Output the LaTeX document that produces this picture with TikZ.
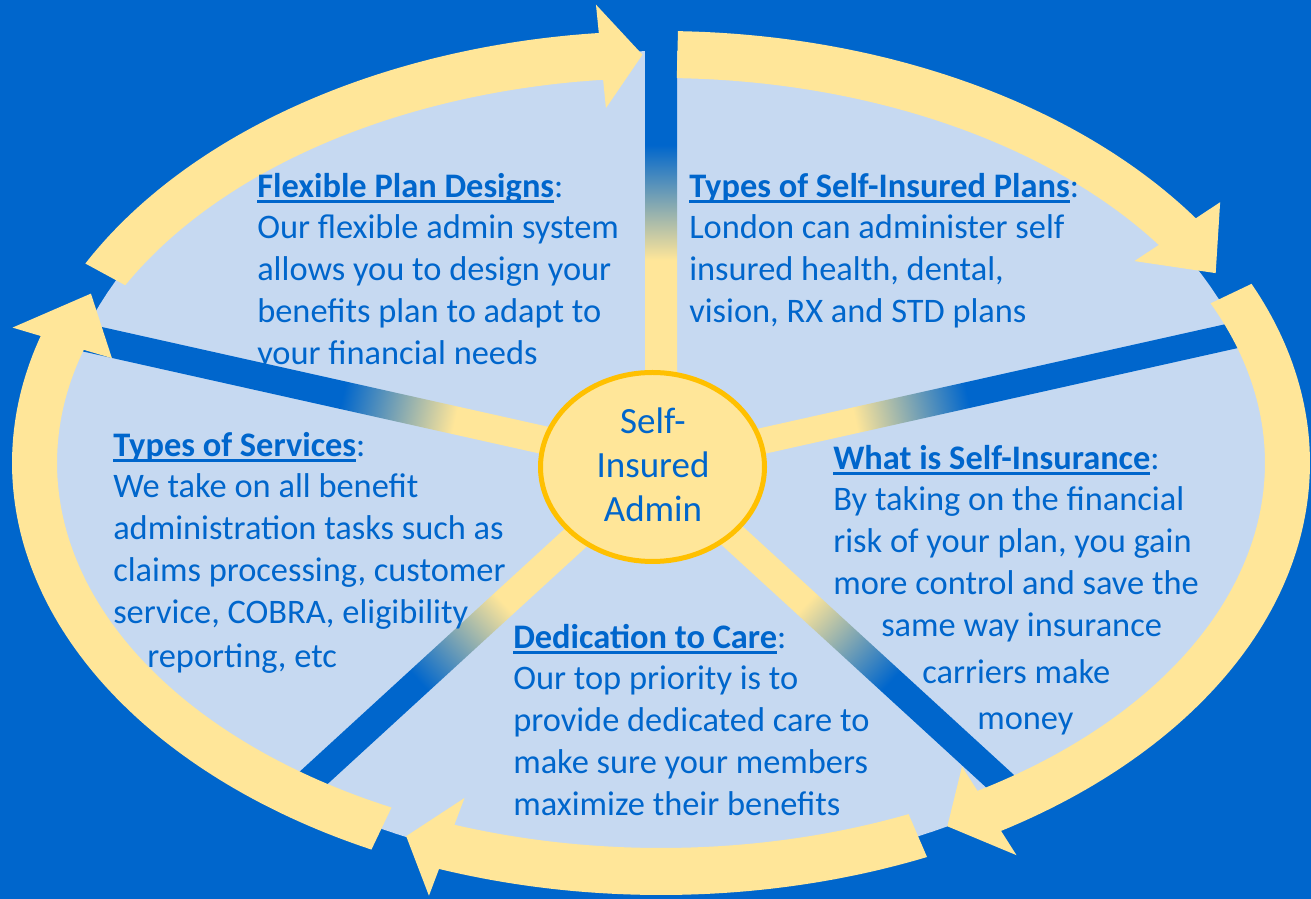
\documentclass[tikz,border=0pt]{standalone}
\usepackage{fontspec}
\setmainfont{Carlito}
\usetikzlibrary{shapes.geometric}
\definecolor{bblue}{RGB}{0,102,204}
\definecolor{lblue}{RGB}{198,217,241}
\definecolor{ylw}{RGB}{255,230,153}
\definecolor{hubline}{RGB}{255,192,0}
\definecolor{txtblue}{RGB}{0,102,204}
\pgfdeclarehorizontalshading{spokeshade}{100bp}{color(0bp)=(ylw); color(39.64bp)=(ylw); color(47.86bp)=(bblue); color(100bp)=(bblue)}
\newsavebox\ulbox
\newcommand\myul[1]{\sbox\ulbox{#1}\rlap{\rule[-4.5pt]{\wd\ulbox}{2.2pt}}\usebox\ulbox}
\newcommand\yarrow[3]{%
  \fill[ylw] plot[domain=#1:#2, samples=90] ({661+649*cos(\x)},{436+432*sin(\x)})
    -- ({661+678.5*cos(#2)},{436+460.5*sin(#2)})
    -- ({661+626.5*cos(#3)},{436+408.5*sin(#3)})
    -- ({661+574.5*cos(#2)},{436+356.5*sin(#2)})
    -- plot[domain=#2:#1, samples=90] ({661+604*cos(\x)},{436+385*sin(\x)}) -- cycle;}
\newcommand\spoke[4]{%
  \begin{scope}[transform canvas={shift={(#1,#2)}, rotate=#3}]
    \shade[shading=spokeshade] (0,-#4) rectangle (700,#4);
  \end{scope}}
\tikzset{
  body/.style={anchor=north west, inner sep=0pt, align=left, text=txtblue,
    font=\fontsize{25.8pt}{31.3pt}\selectfont},
  hub/.style={ellipse, draw=hubline, line width=3.75pt, fill=ylw,
    minimum width=168pt, minimum height=141.75pt, inner sep=0pt},
  hubtext/.style={anchor=north, inner sep=0pt, align=center, text=txtblue,
    font=\fontsize{27.75pt}{33.26pt}\selectfont}
}
\begin{document}
\begin{tikzpicture}[x=0.75pt, y=0.75pt]
\useasboundingbox (0,0) rectangle (1311,899);
\fill[bblue] (0,0) rectangle (1311,899);
\fill[lblue] plot[domain=0:360, samples=200] ({661+608*cos(\x)},{436+412*sin(\x)}) -- cycle;
\spoke{661}{434}{90}{16}
\spoke{655}{434}{12.6}{13}
\spoke{655}{434}{-42.5}{14}
\spoke{655}{434}{222.5}{14}
\spoke{655}{434}{167.4}{14}
\yarrow{152.5}{95.5}{91.7}
\yarrow{88.5}{34.5}{27.7}
\yarrow{24.5}{-58.4}{-62.8}
\yarrow{-65.8}{-110}{-114}
\yarrow{243.5}{162.9}{155.5}
\node[hub] (hub) at (652.5,432) {};
\node[hubtext] (hubtxt) at (653,503.33) {\rule{0pt}{28pt}Self-\\Insured\\Admin};
\node[body] (fp) at (257,736.67) {\rule{0pt}{26pt}\myul{\textbf{Flexible Plan Designs}}:\\
Our flexible admin system\\
allows you to design your\\
benefits plan to adapt to\\
your financial needs};
\node[body] (tp) at (689,736.67) {\rule{0pt}{26pt}\myul{\textbf{Types of Self-Insured Plans}}:\\
London can administer self\\
insured health, dental,\\
vision, RX and STD plans};
\node[body] (ts) at (113,477.67) {\rule{0pt}{26pt}\myul{\textbf{Types of Services}}:\\
We take on all benefit\\
administration tasks such as\\
claims processing, customer\\
service, COBRA, eligibility\\[1.7pt]
\hspace*{25.5pt}reporting, etc};
\node[body] (ws) at (833,464.67) {\rule{0pt}{26pt}\myul{\textbf{What is Self-Insurance}}:\\
By taking on the financial\\
risk of your plan, you gain\\
more control and save the\\
\hspace*{36pt}same way insurance\\[4pt]
\hspace*{66.75pt}carriers make\\[3.2pt]
\hspace*{108pt}money};
\node[body] (dc) at (513,285.67) {\rule{0pt}{26pt}\myul{\textbf{Dedication to Care}}:\\
Our top priority is to\\
provide dedicated care to\\
make sure your members\\
maximize their benefits};
\end{tikzpicture}
\end{document}
